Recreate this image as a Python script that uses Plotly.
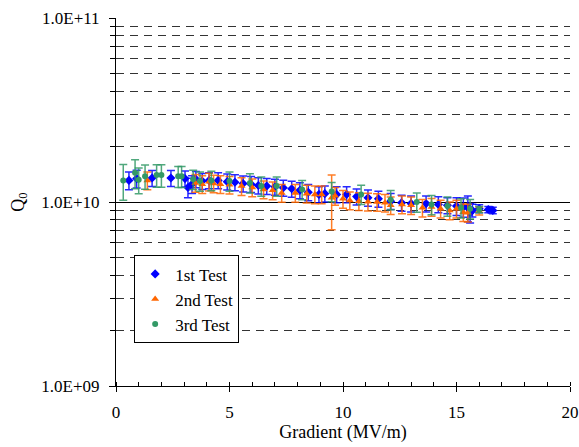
import plotly.graph_objects as go

# ---- data (Q0 in units of 1e10) ----
t1_x = [0.57, 0.91, 1.59, 2.42, 3.04, 3.17, 3.35, 3.52, 3.8, 4.1, 4.5, 4.9, 5.24, 5.6, 5.95, 6.27, 6.64, 7.0,
        7.37, 7.74, 8.1, 8.47, 8.94, 9.2, 9.72, 10.16, 10.6, 11.1, 11.56, 12.1, 12.58, 13.0, 13.66, 14.2,
        14.6, 15.0, 15.3, 15.5, 15.6, 15.7, 16.0, 16.4, 16.6]
t1_y = [1.31, 1.34, 1.35, 1.35, 1.34, 1.20, 1.25, 1.33, 1.30, 1.31, 1.31, 1.29, 1.28, 1.26, 1.25, 1.23, 1.22, 1.21,
        1.195, 1.18, 1.157, 1.13, 1.10, 1.11, 1.10, 1.10, 1.07, 1.055, 1.04, 1.01, 0.99, 0.98, 0.98, 0.97,
        0.96, 0.95, 0.94, 0.93, 0.875, 0.90, 0.92, 0.91, 0.90]
t1_err = [0.11, 0.11, 0.10, 0.10, 0.10, 0.12, 0.11, 0.10, 0.10, 0.10, 0.10, 0.10, 0.10, 0.10, 0.10, 0.10, 0.10, 0.10,
          0.10, 0.10, 0.10, 0.10, 0.10, 0.10, 0.10, 0.10, 0.10, 0.10, 0.10, 0.10, 0.10, 0.10, 0.10, 0.10,
          0.10, 0.11, 0.12, 0.16, 0.12, 0.08, 0.05, 0.04, 0.04]

t2_x = [1.38, 3.5, 3.8, 4.1, 4.3, 4.6, 5.0, 5.53, 6.0, 6.5, 6.9, 7.3, 7.9, 8.4, 8.76, 9.06, 9.5, 9.65, 10.0,
        10.3, 10.7, 11.1, 11.5, 11.85, 12.1, 12.6, 13.0, 13.5, 13.9, 14.3, 14.7, 15.0, 15.3, 15.5, 16.0]
t2_y = [1.31, 1.27, 1.25, 1.29, 1.26, 1.25, 1.24, 1.22, 1.20, 1.17, 1.157, 1.12, 1.12, 1.11, 1.10, 1.10, 1.055,
        1.08, 1.04, 1.02, 1.01, 1.004, 1.00, 0.99, 0.96, 0.97, 0.96, 0.93, 0.94, 0.92, 0.90, 0.92, 0.88, 0.875, 0.894]
t2_err = [0.11, 0.11, 0.11, 0.11, 0.11, 0.11, 0.11, 0.11, 0.11, 0.11, 0.11, 0.11, 0.11, 0.11, 0.11, 0.11, 0.33,
          0.11, 0.11, 0.11, 0.11, 0.11, 0.11, 0.11, 0.11, 0.11, 0.11, 0.11, 0.11, 0.11, 0.11, 0.11, 0.11, 0.11, 0.05]

t3_x = [0.32, 0.84, 1.0, 1.28, 1.79, 2.0, 2.74, 2.89, 3.4, 3.7, 4.2, 5.0, 5.9, 6.4, 7.08, 8.2, 9.5, 10.8,
        12.1, 13.25, 13.9, 14.6, 15.2, 15.6, 16.0]
t3_y = [1.31, 1.44, 1.32, 1.38, 1.40, 1.40, 1.38, 1.38, 1.33, 1.30, 1.31, 1.30, 1.27, 1.22, 1.22, 1.17, 1.14,
        1.10, 1.03, 1.00, 0.97, 0.95, 0.93, 0.92, 0.91]
t3_err = [0.22, 0.18, 0.16, 0.15, 0.14, 0.14, 0.13, 0.13, 0.12, 0.12, 0.12, 0.12, 0.12, 0.12, 0.12, 0.12, 0.12,
          0.12, 0.12, 0.12, 0.12, 0.12, 0.12, 0.12, 0.04]

series = [
    ("1st Test", t1_x, t1_y, t1_err, "#0000ff", "rgba(0,0,255,0.85)", "diamond", 7),
    ("2nd Test", t2_x, t2_y, t2_err, "#ff6600", "rgba(255,102,0,0.85)", "triangle-up", 7),
    ("3rd Test", t3_x, t3_y, t3_err, "#339966", "rgba(51,153,102,0.85)", "circle", 6),
]

fig = go.Figure()
for name, xs, ys, es, col, ecol, sym, sz in series:
    yv = [v * 1e10 for v in ys]
    ev = [v * e * 1e10 for v, e in zip(ys, es)]
    fig.add_trace(go.Scatter(
        x=xs, y=yv, mode="markers", name=name,
        marker=dict(symbol=sym, color=col, size=sz, line=dict(width=0)),
        error_y=dict(type="data", array=ev, visible=True, color=ecol, thickness=1.5, width=4),
    ))

font = "Times New Roman, Liberation Serif, DejaVu Serif, serif"
minor_vals = [m * 10 ** e for e in (9, 10) for m in range(2, 10)]

fig.update_layout(
    width=579, height=447,
    margin=dict(l=116, r=9, t=16, b=61),
    paper_bgcolor="white", plot_bgcolor="white",
    font=dict(family=font, size=17, color="black"),
    legend=dict(x=0.04, y=0.355, xanchor="left", yanchor="top",
                bordercolor="black", borderwidth=1, bgcolor="white",
                font=dict(family=font, size=17), itemsizing="trace", itemwidth=30,
                tracegroupgap=0),
    xaxis=dict(range=[0, 20], tickvals=[0, 5, 10, 15, 20], showgrid=False,
               showline=True, linecolor="black", linewidth=1,
               ticks="outside", ticklen=5, tickcolor="black", ticklabelstandoff=6,
               tickfont=dict(family=font, size=17),
               minor=dict(dtick=1, ticks="inside", ticklen=4, tickcolor="black", showgrid=False),
               zeroline=False, automargin=False,
               title=dict(text="Gradient (MV/m)", font=dict(family=font, size=18), standoff=0)),
    yaxis=dict(type="log", range=[9, 11],
               tickvals=[1e9, 1e10, 1e11], ticktext=["1.0E+09", "1.0E+10", "1.0E+11"],
               tickfont=dict(family=font, size=17),
               showgrid=True, gridcolor="black", gridwidth=1,
               showline=True, linecolor="black", linewidth=1,
               ticks="outside", ticklen=6, tickcolor="black", ticklabelstandoff=6,
               minor=dict(tickvals=minor_vals, ticks="outside", ticklen=5, tickcolor="black",
                          showgrid=True, gridcolor="#333333", gridwidth=1, griddash="8px,6px"),
               zeroline=False,
               title=dict(text="Q<sub>0</sub>", font=dict(family=font, size=18), standoff=12)),
)

fig.write_html("out.html")
